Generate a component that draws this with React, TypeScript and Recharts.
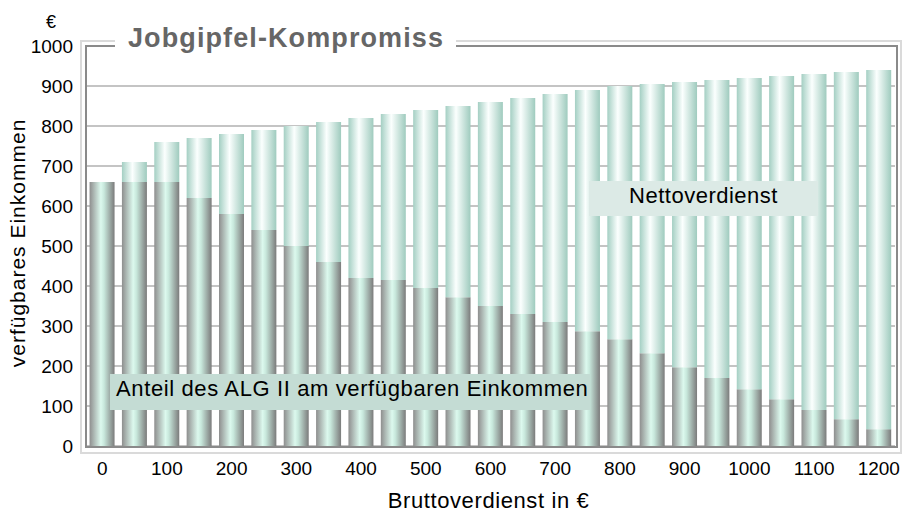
import { Bar, BarChart, CartesianGrid, XAxis, YAxis } from "recharts";

// Bruttoverdienst in € (x categories, every 50 €)
const brutto = [
  0, 50, 100, 150, 200, 250, 300, 350, 400, 450, 500, 550, 600, 650, 700, 750,
  800, 850, 900, 950, 1000, 1050, 1100, 1150, 1200,
];

// total disposable income (top of each stack)
const verfuegbar = [
  660, 710, 760, 770, 780, 790, 800, 810, 820, 830, 840, 850, 860, 870, 880,
  890, 900, 905, 910, 915, 920, 925, 930, 935, 940,
];

// share of ALG II in that income (lower segment)
const algAnteil = [
  660, 660, 660, 620, 580, 540, 500, 460, 420, 415, 395, 372, 350, 330, 310,
  287, 267, 232, 197, 170, 142, 117, 90, 67, 42,
];

const yTicks = [0, 100, 200, 300, 400, 500, 600, 700, 800, 900, 1000];

const rows = brutto.map((b, i) => ({
  brutto: b,
  alg: algAnteil[i],
  netto: verfuegbar[i] - algAnteil[i],
}));

const FONT = '"Liberation Sans", Arial, sans-serif';
const tickStyle = { fontSize: 19, fill: "#000", fontFamily: FONT };

export default function App() {
  return (
    <div
      style={{
        position: "absolute",
        left: 0,
        top: 0,
        width: 908,
        height: 515,
        background: "#fff",
        fontFamily: FONT,
      }}
    >
      <svg width={0} height={0} style={{ position: "absolute" }}>
        <defs>
          <linearGradient id="gradAlg" x1="0" y1="0" x2="1" y2="0">
            <stop offset="0%" stopColor="#8e8e8e" />
            <stop offset="45%" stopColor="#dcf9ee" />
            <stop offset="58%" stopColor="#c8e8dc" />
            <stop offset="100%" stopColor="#7b7b7b" />
          </linearGradient>
          <linearGradient id="gradNetto" x1="0" y1="0" x2="1" y2="0">
            <stop offset="0%" stopColor="#a4cfc3" />
            <stop offset="42%" stopColor="#fbfffe" />
            <stop offset="100%" stopColor="#9fcbbe" />
          </linearGradient>
        </defs>
      </svg>

      <BarChart
        width={908}
        height={515}
        data={rows}
        margin={{ top: 46, right: 13, left: 0, bottom: 0 }}
        barCategoryGap="11%"
      >
        <CartesianGrid vertical={false} stroke="#b0b0b0" strokeWidth={1.5} />
        <XAxis
          dataKey="brutto"
          height={69}
          interval={1}
          axisLine={false}
          tickLine={false}
          tickSize={6}
          tickMargin={10}
          tick={tickStyle}
          label={{
            value: "Bruttoverdienst in €",
            position: "insideBottom",
            offset: 7,
            dx: -2,
            fontSize: 22,
            letterSpacing: 0.6,
            fill: "#000",
            fontFamily: FONT,
          }}
        />
        <YAxis
          width={86}
          domain={[0, 1000]}
          ticks={yTicks}
          interval={0}
          axisLine={false}
          tickLine={false}
          tickSize={6}
          tickMargin={7}
          tick={tickStyle}
          label={{
            value: "verfügbares Einkommen",
            angle: -90,
            position: "center",
            dx: -25,
            dy: -3,
            fontSize: 21,
            letterSpacing: 1,
            fill: "#000",
            fontFamily: FONT,
          }}
        />
        <Bar dataKey="alg" stackId="s" fill="url(#gradAlg)" isAnimationActive={false} />
        <Bar dataKey="netto" stackId="s" fill="url(#gradNetto)" isAnimationActive={false} />
      </BarChart>

      {/* light outer frame and darker inner frame of the plot area */}
      <div
        style={{
          position: "absolute",
          left: 80,
          top: 40,
          width: 818,
          height: 410,
          border: "2px solid #dadada",
          pointerEvents: "none",
        }}
      />
      <div
        style={{
          position: "absolute",
          left: 85,
          top: 45,
          width: 809,
          height: 399,
          border: "2px solid #8a8a8a",
          pointerEvents: "none",
        }}
      />

      <div
        style={{
          position: "absolute",
          left: 46,
          top: 12,
          fontSize: 18,
          lineHeight: "20px",
        }}
      >
        €
      </div>

      <div
        style={{
          position: "absolute",
          left: 115,
          top: 23,
          padding: "0 12px 0 13px",
          background: "#fff",
          color: "#666",
          fontWeight: "bold",
          fontSize: 27,
          letterSpacing: 1.1,
          lineHeight: "30px",
          whiteSpace: "nowrap",
        }}
      >
        Jobgipfel-Kompromiss
      </div>

      <div
        style={{
          position: "absolute",
          left: 589,
          top: 181,
          width: 229,
          height: 35,
          background: "#dceae6",
          fontSize: 22,
          letterSpacing: 0.5,
          lineHeight: "30px",
          textAlign: "center",
          whiteSpace: "nowrap",
        }}
      >
        Nettoverdienst
      </div>

      <div
        style={{
          position: "absolute",
          left: 110,
          top: 374,
          width: 474,
          height: 36,
          paddingLeft: 6,
          background: "#c4dcd4",
          fontSize: 22,
          letterSpacing: 0.62,
          lineHeight: "30px",
          whiteSpace: "nowrap",
        }}
      >
        Anteil des ALG II am verfügbaren Einkommen
      </div>
    </div>
  );
}
